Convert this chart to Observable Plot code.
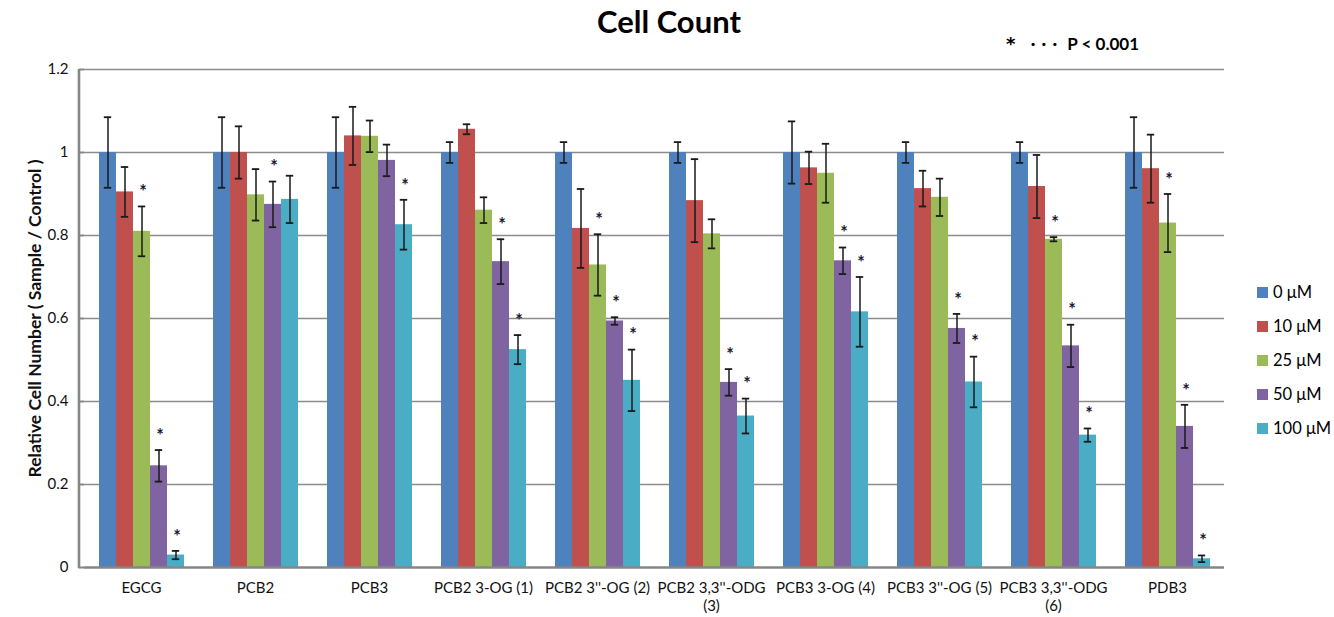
<!DOCTYPE html>
<html>
<head>
<meta charset="utf-8">
<script src="https://cdn.jsdelivr.net/npm/d3@7"></script>
<script src="https://cdn.jsdelivr.net/npm/@observablehq/plot@0.6"></script>
<style>
  body { margin: 0; background: #fff; font-family: Lato, "Open Sans", sans-serif; }
  #wrap { position: relative; width: 1334px; height: 617px; overflow: hidden; }
  #title { position: absolute; left: 0; top: 2px; width: 1338px; text-align: center; font-weight: bold; font-size: 31px; color: #000; }
  #note { position: absolute; left: 1006px; top: 33px; font-weight: bold; font-size: 17px; color: #000; white-space: pre; }
  #note .star { font-family: "DejaVu Sans", sans-serif; font-size: 18px; }
  #note .dots { letter-spacing: 1px; }
  #legend { position: absolute; left: 1257px; top: 275px; }
  .row { display: flex; align-items: center; height: 34px; font-size: 16.5px; color: #000; }
  .sw { width: 11px; height: 11px; margin-right: 5px; }
  #chart { position: absolute; left: 0; top: 0; }
</style>
</head>
<body>
<div id="wrap">
  <div id="chart"></div>
  <div id="title"></div>
  <div id="note"></div>
  <div id="legend"></div>
</div>
<script>
// ---- data ----
const title = "Cell Count";
const noteStar = "*";
const noteDots = "   · · · ";
const noteText = " P < 0.001";
const yLabel = "Relative Cell Number ( Sample / Control )";
const categories = ["EGCG", "PCB2", "PCB3", "PCB2 3-OG (1)", "PCB2 3''-OG (2)", "PCB2 3,3''-ODG (3)", "PCB3 3-OG (4)", "PCB3 3''-OG (5)", "PCB3 3,3''-ODG (6)", "PDB3"];
const tickLabels = ["EGCG", "PCB2", "PCB3", "PCB2 3-OG (1)", "PCB2 3''-OG (2)", "PCB2 3,3''-ODG\n(3)", "PCB3 3-OG (4)", "PCB3 3''-OG (5)", "PCB3 3,3''-ODG\n(6)", "PDB3"];
const series = ["0 μM", "10 μM", "25 μM", "50 μM", "100 μM"];
const colors = ["#4F81BD", "#C0504D", "#9BBB59", "#8064A2", "#4BACC6"];
const yTicks = [0, 0.2, 0.4, 0.6, 0.8, 1, 1.2];

const v0   = [1, 1, 1, 1, 1, 1, 1, 1, 1, 1];
const v10  = [0.905, 1.0, 1.04, 1.056, 0.817, 0.884, 0.963, 0.913, 0.918, 0.961];
const v25  = [0.81, 0.898, 1.039, 0.861, 0.729, 0.804, 0.95, 0.892, 0.791, 0.83];
const v50  = [0.245, 0.875, 0.981, 0.737, 0.594, 0.446, 0.739, 0.576, 0.534, 0.34];
const v100 = [0.03, 0.887, 0.826, 0.525, 0.451, 0.365, 0.616, 0.447, 0.319, 0.021];

const e0   = [0.085, 0.085, 0.085, 0.025, 0.025, 0.025, 0.075, 0.025, 0.025, 0.085];
const e10  = [0.06, 0.063, 0.07, 0.012, 0.095, 0.1, 0.039, 0.043, 0.076, 0.082];
const e25  = [0.06, 0.062, 0.038, 0.031, 0.074, 0.035, 0.071, 0.045, 0.005, 0.07];
const e50  = [0.038, 0.055, 0.038, 0.054, 0.009, 0.032, 0.032, 0.035, 0.051, 0.052];
const e100 = [0.01, 0.057, 0.06, 0.035, 0.074, 0.042, 0.084, 0.061, 0.016, 0.008];

// significance (P < 0.001) markers, 1 = marked
const s0   = [0, 0, 0, 0, 0, 0, 0, 0, 0, 0];
const s10  = [0, 0, 0, 0, 0, 0, 0, 0, 0, 0];
const s25  = [1, 0, 0, 0, 1, 0, 0, 0, 1, 1];
const s50  = [1, 1, 0, 1, 1, 1, 1, 1, 1, 1];
const s100 = [1, 0, 1, 1, 1, 1, 1, 1, 1, 1];

// ---- table ----
const vals = [v0, v10, v25, v50, v100];
const errs = [e0, e10, e25, e50, e100];
const sigs = [s0, s10, s25, s50, s100];
const rows = [];
series.forEach((s, i) => categories.forEach((c, j) => {
  rows.push({cat: c, series: s, value: vals[i][j], lo: vals[i][j] - errs[i][j], hi: vals[i][j] + errs[i][j], sig: sigs[i][j]});
}));

const ML = 79, MR = 106, MT = 69, MB = 50;
const font = "Lato, 'Open Sans', sans-serif";

const chart = Plot.plot({
  width: 1334, height: 617,
  marginLeft: ML, marginRight: MR, marginTop: MT, marginBottom: MB,
  style: {fontFamily: font, fontSize: "14px", color: "#111", background: "transparent", overflow: "visible"},
  fx: {domain: categories, padding: 0, label: null},
  x: {domain: series, paddingInner: 0, paddingOuter: 0.75, axis: null},
  y: {domain: [0, 1.2]},
  color: {domain: series, range: colors},
  marks: [
    Plot.ruleY(yTicks.filter(d => d > 0), {stroke: "#8c8c8c", strokeWidth: 1.6}),
    Plot.barY(rows, {fx: "cat", x: "series", y: "value", fill: "series"}),
    Plot.ruleX(rows, {fx: "cat", x: "series", y1: "lo", y2: "hi", stroke: "#1a1a1a", strokeWidth: 1.5}),
    Plot.tickY(rows, {fx: "cat", x: "series", y: "hi", stroke: "#1a1a1a", strokeWidth: 1.8, insetLeft: 4.8, insetRight: 4.8}),
    Plot.tickY(rows, {fx: "cat", x: "series", y: "lo", stroke: "#1a1a1a", strokeWidth: 1.8, insetLeft: 4.8, insetRight: 4.8}),
    Plot.text(rows.filter(d => d.sig), {fx: "cat", x: "series", y: "hi", text: () => "*", dx: 1, dy: -14, fontSize: 18, fontWeight: "bold", fill: "#1a1a30"}),
    Plot.ruleY([0], {stroke: "#868686", strokeWidth: 2.6}),
    Plot.axisY({
      ticks: yTicks, tickFormat: d => String(d), tickSize: 5, tickPadding: 11,
      stroke: "#868686", strokeWidth: 2, fontSize: 15, color: "#111",
      label: yLabel, labelAnchor: "center", labelArrow: "none", labelOffset: 56
    }),
    Plot.axisFx({
      anchor: "bottom", tickSize: 0, tickPadding: 13, label: null,
      tickFormat: d => tickLabels[categories.indexOf(d)],
      fontSize: 15, lineHeight: 1.2, color: "#111"
    })
  ]
});

// y-axis label bold
d3.select(chart).selectAll("g[aria-label='y-axis label'] text").attr("font-weight", "bold").attr("font-size", 17.5);

// left axis line, drawn with the plot's own y scale
const ys = chart.scale("y");
d3.select(chart).append("line")
  .attr("x1", ML).attr("x2", ML)
  .attr("y1", ys.apply(0) + 1.3).attr("y2", ys.apply(1.2))
  .attr("stroke", "#868686").attr("stroke-width", 2.6);

document.getElementById("chart").appendChild(chart);
document.getElementById("title").textContent = title;
const noteEl = d3.select("#note");
noteEl.append("span").attr("class", "star").text(noteStar);
noteEl.append("span").attr("class", "dots").text(noteDots);
noteEl.append("span").text(noteText);

const legend = d3.select("#legend");
series.forEach((s, i) => {
  const r = legend.append("div").attr("class", "row");
  r.append("div").attr("class", "sw").style("background", colors[i]);
  r.append("span").text(s);
});
</script>
</body>
</html>
